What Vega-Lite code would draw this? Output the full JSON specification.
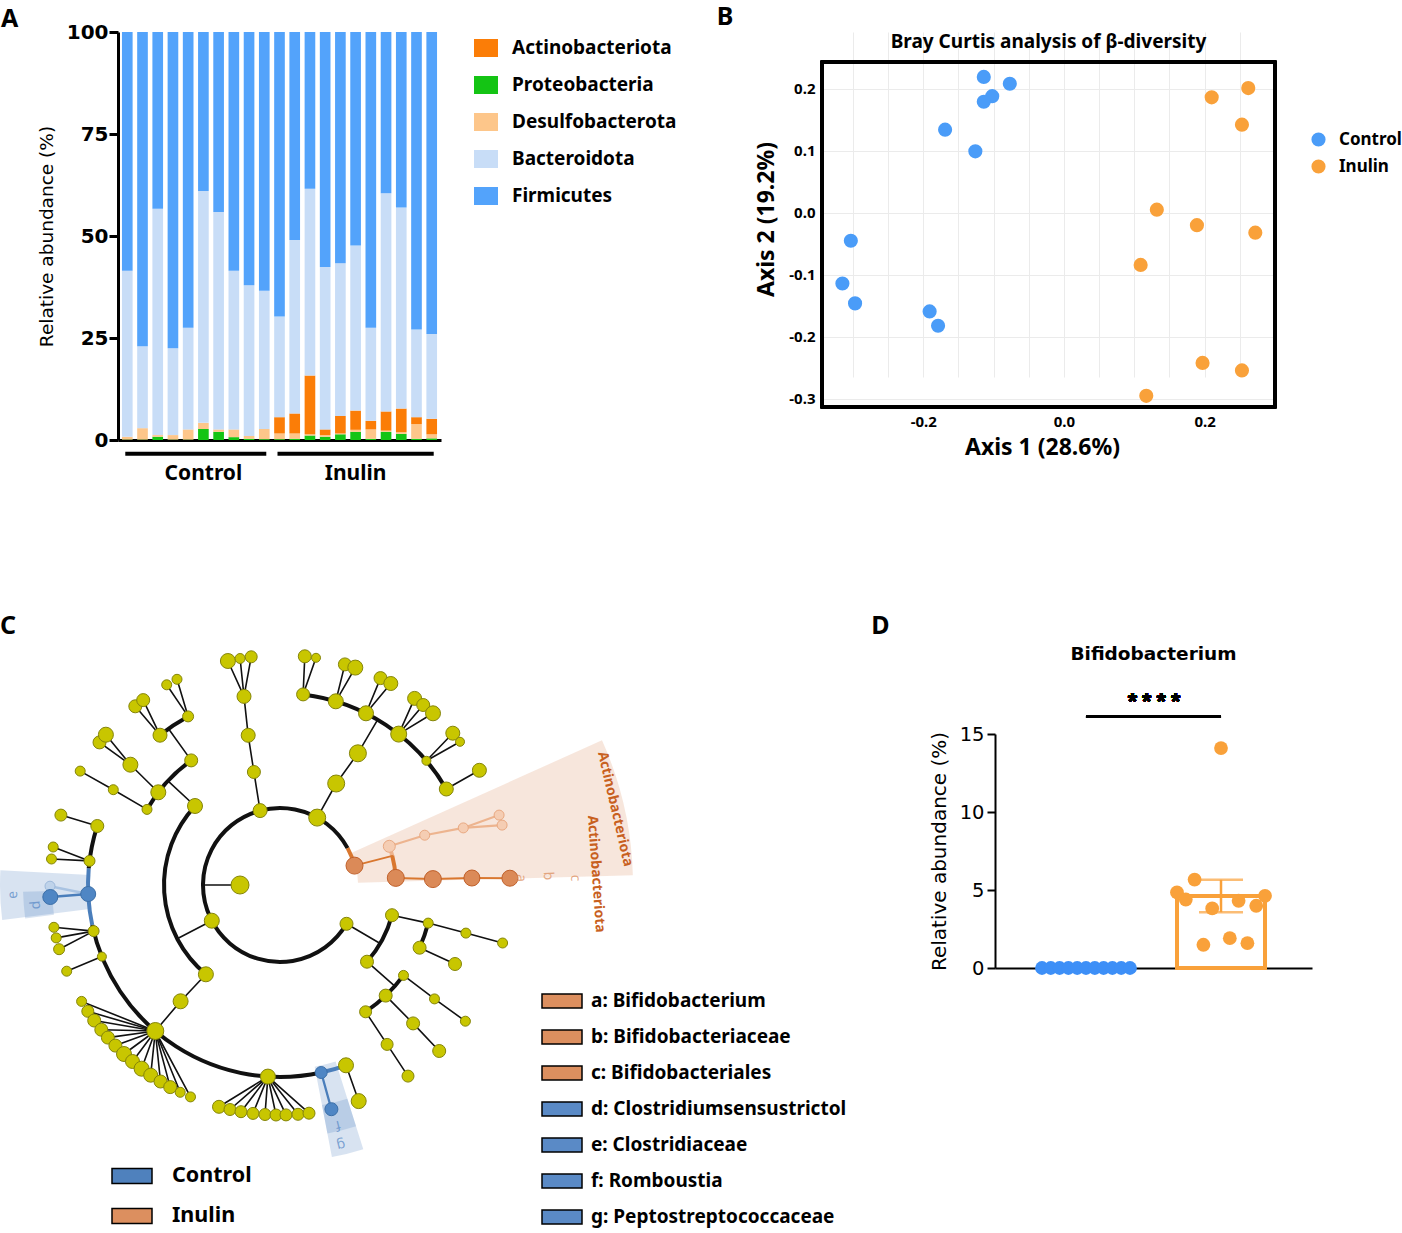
{
"$schema":"https://vega.github.io/schema/vega-lite/v6.json",
"padding":{"left":0,"top":5,"right":0,"bottom":0},
"background":"white",
"config":{"font":"Noto Sans","view":{"stroke":null},"axis":{"labelColor":"black","titleColor":"black","domainColor":"black","tickColor":"black"},"title":{"color":"black","fontWeight":"bold"},"legend":{"labelColor":"black"}},
"spacing":130,
"resolve":{"scale":{"color":"independent","fill":"independent","stroke":"independent","size":"independent","strokeWidth":"independent","angle":"independent","theta":"independent","radius":"independent","xOffset":"independent"}},
"vconcat":[
{"spacing":39,
"resolve":{"scale":{"color":"independent","fill":"independent","stroke":"independent","size":"independent"}},
"hconcat":[
{"title":{"text":"A","anchor":"start","frame":"group","dx":-117,"fontSize":25,"offset":-10},
"width":323,"height":408,
"layer":[
{"data":{"values":[
{"sample":"C1","group":"Control","Proteobacteria":0.1,"Desulfobacterota":0.7,"Actinobacteriota":0,"Bacteroidota":40.7,"Firmicutes":58.5},
{"sample":"C2","group":"Control","Proteobacteria":0.1,"Desulfobacterota":2.8,"Actinobacteriota":0,"Bacteroidota":20.1,"Firmicutes":77.0},
{"sample":"C3","group":"Control","Proteobacteria":0.8,"Desulfobacterota":0.4,"Actinobacteriota":0,"Bacteroidota":55.5,"Firmicutes":43.3},
{"sample":"C4","group":"Control","Proteobacteria":0.1,"Desulfobacterota":1.1,"Actinobacteriota":0,"Bacteroidota":21.3,"Firmicutes":77.5},
{"sample":"C5","group":"Control","Proteobacteria":0.1,"Desulfobacterota":2.5,"Actinobacteriota":0,"Bacteroidota":24.9,"Firmicutes":72.5},
{"sample":"C6","group":"Control","Proteobacteria":2.7,"Desulfobacterota":1.5,"Actinobacteriota":0,"Bacteroidota":56.8,"Firmicutes":39.0},
{"sample":"C7","group":"Control","Proteobacteria":2.0,"Desulfobacterota":0.6,"Actinobacteriota":0,"Bacteroidota":53.3,"Firmicutes":44.1},
{"sample":"C8","group":"Control","Proteobacteria":0.7,"Desulfobacterota":1.9,"Actinobacteriota":0,"Bacteroidota":38.9,"Firmicutes":58.5},
{"sample":"C9","group":"Control","Proteobacteria":0.3,"Desulfobacterota":0.7,"Actinobacteriota":0,"Bacteroidota":36.9,"Firmicutes":62.1},
{"sample":"C10","group":"Control","Proteobacteria":0.2,"Desulfobacterota":2.5,"Actinobacteriota":0,"Bacteroidota":33.9,"Firmicutes":63.4},
{"sample":"I1","group":"Inulin","Proteobacteria":0.2,"Desulfobacterota":1.4,"Actinobacteriota":4.0,"Bacteroidota":24.7,"Firmicutes":69.7},
{"sample":"I2","group":"Inulin","Proteobacteria":0.3,"Desulfobacterota":1.3,"Actinobacteriota":4.9,"Bacteroidota":42.5,"Firmicutes":51.0},
{"sample":"I3","group":"Inulin","Proteobacteria":1.1,"Desulfobacterota":0.3,"Actinobacteriota":14.4,"Bacteroidota":45.8,"Firmicutes":38.4},
{"sample":"I4","group":"Inulin","Proteobacteria":0.8,"Desulfobacterota":0.4,"Actinobacteriota":1.4,"Bacteroidota":39.8,"Firmicutes":57.6},
{"sample":"I5","group":"Inulin","Proteobacteria":1.4,"Desulfobacterota":0.2,"Actinobacteriota":4.3,"Bacteroidota":37.4,"Firmicutes":56.7},
{"sample":"I6","group":"Inulin","Proteobacteria":2.0,"Desulfobacterota":0.5,"Actinobacteriota":4.7,"Bacteroidota":40.5,"Firmicutes":52.3},
{"sample":"I7","group":"Inulin","Proteobacteria":0.3,"Desulfobacterota":2.3,"Actinobacteriota":2.1,"Bacteroidota":22.8,"Firmicutes":72.5},
{"sample":"I8","group":"Inulin","Proteobacteria":2.0,"Desulfobacterota":0.3,"Actinobacteriota":4.7,"Bacteroidota":53.5,"Firmicutes":39.5},
{"sample":"I9","group":"Inulin","Proteobacteria":1.5,"Desulfobacterota":0.4,"Actinobacteriota":5.8,"Bacteroidota":49.3,"Firmicutes":43.0},
{"sample":"I10","group":"Inulin","Proteobacteria":0.3,"Desulfobacterota":3.6,"Actinobacteriota":1.7,"Bacteroidota":21.5,"Firmicutes":72.9},
{"sample":"I11","group":"Inulin","Proteobacteria":0.4,"Desulfobacterota":1.0,"Actinobacteriota":3.8,"Bacteroidota":20.8,"Firmicutes":74.0}
]},
"transform":[
{"fold":["Proteobacteria","Desulfobacterota","Actinobacteriota","Bacteroidota","Firmicutes"],"as":["phylum","abundance"]},
{"lookup":"phylum","from":{"data":{"values":[{"phylum":"Proteobacteria","rank":1},{"phylum":"Desulfobacterota","rank":2},{"phylum":"Actinobacteriota","rank":3},{"phylum":"Bacteroidota","rank":4},{"phylum":"Firmicutes","rank":5}]},"key":"phylum","fields":["rank"]}}
],
"mark":{"type":"bar"},
"encoding":{
"x":{"field":"sample","type":"nominal","title":null,"scale":{"type":"band","domain":["C1","C2","C3","C4","C5","C6","C7","C8","C9","C10","I1","I2","I3","I4","I5","I6","I7","I8","I9","I10","I11"],"paddingInner":0.3,"paddingOuter":0.26},"axis":{"labels":false,"ticks":false,"domainWidth":3,"title":null}},
"y":{"field":"abundance","type":"quantitative","stack":"zero","title":"Relative abundance (%)","scale":{"domain":[0,100],"nice":false},"axis":{"values":[0,25,50,75,100],"grid":false,"domainWidth":3,"tickWidth":3,"tickSize":9,"labelFont":"DejaVu Sans","labelFontSize":20,"labelFontWeight":"bold","labelPadding":1,"titleFont":"DejaVu Sans","titleFontSize":18.5,"titleFontWeight":"normal","titlePadding":10}},
"color":{"field":"phylum","type":"nominal","scale":{"domain":["Actinobacteriota","Proteobacteria","Desulfobacterota","Bacteroidota","Firmicutes"],"range":["#FB7D07","#14C414","#FDC68A","#C8DDF7","#53A3FB"]},"legend":{"title":null,"orient":"none","legendX":356,"legendY":4,"symbolType":"M-1,-0.75H1V0.75H-1Z","symbolSize":576,"symbolStrokeWidth":0,"labelFontSize":19,"labelFontWeight":"bold","labelOffset":14,"rowPadding":15,"labelLimit":300}},
"order":{"field":"rank","type":"quantitative"}
}},
{"data":{"values":[{"group":"Control","first":"C1","last":"C10","mid":"C6"},{"group":"Inulin","first":"I1","last":"I11","mid":"I6"}]},
"layer":[
{"mark":{"type":"rule","strokeWidth":4,"color":"black","strokeCap":"square"},"encoding":{"x":{"field":"first","type":"nominal","title":null,"scale":{"type":"band"}},"x2":{"field":"last"},"y":{"datum":-3.4}}},
{"mark":{"type":"text","fontSize":21,"fontWeight":"bold","baseline":"middle","color":"black"},"encoding":{"x":{"field":"mid","type":"nominal","title":null,"scale":{"type":"band"}},"y":{"datum":-8.3},"text":{"field":"group"}}}
]}
]},
{"title":{"text":"B","anchor":"start","frame":"bounds","dx":-39,"fontSize":25,"offset":2},
"vconcat":[{
"title":{"text":"Bray Curtis analysis of β-diversity","fontSize":19,"fontWeight":"bold","anchor":"middle","frame":"group","offset":-20},
"width":453,"height":375,
"data":{"values":[
{"g":"Control","x":-0.114,"y":0.219},{"g":"Control","x":-0.077,"y":0.208},{"g":"Control","x":-0.102,"y":0.188},{"g":"Control","x":-0.114,"y":0.179},{"g":"Control","x":-0.169,"y":0.134},{"g":"Control","x":-0.126,"y":0.099},{"g":"Control","x":-0.303,"y":-0.045},{"g":"Control","x":-0.315,"y":-0.114},{"g":"Control","x":-0.297,"y":-0.146},{"g":"Control","x":-0.191,"y":-0.159},{"g":"Control","x":-0.179,"y":-0.182},
{"g":"Inulin","x":0.262,"y":0.201},{"g":"Inulin","x":0.210,"y":0.186},{"g":"Inulin","x":0.253,"y":0.142},{"g":"Inulin","x":0.132,"y":0.005},{"g":"Inulin","x":0.189,"y":-0.020},{"g":"Inulin","x":0.272,"y":-0.032},{"g":"Inulin","x":0.109,"y":-0.084},{"g":"Inulin","x":0.197,"y":-0.242},{"g":"Inulin","x":0.253,"y":-0.254},{"g":"Inulin","x":0.117,"y":-0.295}
]},
"layer":[
{"mark":{"type":"rect","fill":null,"filled":false,"stroke":"black","strokeWidth":2.5},
"encoding":{"x":{"datum":-0.344,"type":"quantitative"},"x2":{"datum":0.3},"y":{"datum":-0.313,"type":"quantitative"},"y2":{"datum":0.243}}},
{"mark":{"type":"circle","size":200,"opacity":1},
"encoding":{
"x":{"field":"x","type":"quantitative","title":"Axis 1 (28.6%)","scale":{"domain":[-0.344,0.3],"nice":false,"zero":false},"axis":{"values":[-0.3,-0.25,-0.2,-0.15,-0.1,-0.05,0,0.05,0.1,0.15,0.2,0.25],"labelExpr":"(abs(datum.value+0.2)<0.001 || abs(datum.value)<0.001 || abs(datum.value-0.2)<0.001) ? replace(format(datum.value,'.1f'),'\u2212','-') : ''","labelOverlap":false,"grid":true,"gridColor":"#EBEBEB","ticks":false,"domain":false,"labelFontSize":15,"labelFontWeight":"bold","labelPadding":7,"titleFontSize":23,"titleFontWeight":"bold","titlePadding":7,"titleX":220}},
"y":{"field":"y","type":"quantitative","title":"Axis 2 (19.2%)","scale":{"domain":[-0.313,0.243],"nice":false,"zero":false,"range":[375,30]},"axis":{"values":[-0.3,-0.25,-0.2,-0.15,-0.1,-0.05,0,0.05,0.1,0.15,0.2],"labelExpr":"abs(round(datum.value*100)%10)<0.5 ? replace(format(datum.value,'.1f'),'\u2212','-') : ''","labelOverlap":false,"grid":true,"gridColor":"#EBEBEB","ticks":false,"domain":false,"labelFontSize":15,"labelFontWeight":"bold","labelPadding":7,"titleFontSize":23,"titleFontWeight":"bold","titlePadding":10,"titleY":187}},
"color":{"field":"g","type":"nominal","scale":{"domain":["Control","Inulin"],"range":["#4A9CF8","#F9A13A"]},"legend":{"title":null,"orient":"none","legendX":488,"legendY":99,"symbolType":"circle","symbolSize":200,"labelFontSize":17,"labelFontWeight":"bold","labelOffset":12,"rowPadding":9}}
}}
]}]}
]},
{"spacing":23,
"resolve":{"scale":{"color":"independent","fill":"independent","stroke":"independent","size":"independent"}},
"hconcat":[
{"title":{"text":"C","anchor":"start","frame":"group","dx":-118,"fontSize":25,"offset":4},
"width":730,"height":588,
"resolve":{"scale":{"fill":"independent","stroke":"independent","color":"independent","strokeWidth":"independent","size":"independent"}},
"layer":[
{"data":{"values":[
{"clade":"Actinobacteriota","group":"Inulin","r1":78,"r2":353,"t1":65.8,"t2":88.4},
{"clade":"e","group":"Control","r1":190,"r2":280,"t1":262.8,"t2":273},
{"clade":"d","group":"Control","r1":228,"r2":257,"t1":262.5,"t2":268.5},
{"clade":"g","group":"Control","r1":185,"r2":277,"t1":162.5,"t2":169.2},
{"clade":"f","group":"Control","r1":224,"r2":253,"t1":162.5,"t2":169.2}
]},
"mark":{"type":"arc","fillOpacity":0.22},
"encoding":{
"x":{"datum":0,"type":"quantitative","scale":{"domain":[-162,568],"nice":false,"zero":false},"axis":null},
"y":{"datum":0,"type":"quantitative","scale":{"domain":[-346,242],"nice":false,"zero":false},"axis":null},
"theta":{"field":"t1","type":"quantitative","stack":null,"scale":{"type":"linear","domain":[0,360],"range":[0,6.283185307179586],"zero":false}},
"theta2":{"field":"t2"},
"radius":{"field":"r2","type":"quantitative","scale":{"type":"linear","domain":[0,100],"range":[0,100],"zero":true}},
"radius2":{"field":"r1"},
"fill":{"field":"group","type":"nominal","scale":{"domain":["Control","Inulin"],"range":["#4F81BD","#DC8F5F"]},"legend":{"title":null,"orient":"none","legendX":-7,"legendY":512,"symbolType":"M-1,-0.375H1V0.375H-1Z","symbolSize":1600,"symbolOpacity":1,"symbolStrokeColor":"black","symbolStrokeWidth":1.5,"labelFontSize":21.5,"labelFontWeight":"bold","labelOffset":19,"rowPadding":8}}
}},
{"data":{"values":[
{"r":77,"t1":120.3,"t2":421.4,"k":"ns"},{"r":77,"t1":421.4,"t2":435.4,"k":"Inulin"},
{"r":192,"t1":6.9,"t2":60.0,"k":"ns"},
{"r":116,"t1":70.5,"t2":75.4,"k":"Inulin_light"},{"r":116,"t1":75.4,"t2":86.5,"k":"Inulin"},
{"r":116,"t1":105.1,"t2":131.4,"k":"ns"},{"r":153,"t1":104.4,"t2":114.2,"k":"ns"},{"r":153,"t1":126.2,"t2":146.0,"k":"ns"},
{"r":116,"t1":219.7,"t2":312.9,"k":"ns"},{"r":153,"t1":299.6,"t2":324.5,"k":"ns"},{"r":192,"t1":321.3,"t2":331.4,"k":"ns"},
{"r":192,"t1":167.6,"t2":258,"k":"ns"},{"r":192,"t1":258,"t2":275,"k":"Control"},{"r":192,"t1":275,"t2":287.9,"k":"ns"},{"r":192,"t1":159.9,"t2":167.6,"k":"Control"}
]},
"mark":{"type":"arc","filled":false,"strokeWidth":4},
"encoding":{
"x":{"datum":0,"type":"quantitative","scale":{"domain":[-162,568],"nice":false,"zero":false},"axis":null},
"y":{"datum":0,"type":"quantitative","scale":{"domain":[-346,242],"nice":false,"zero":false},"axis":null},
"theta":{"field":"t1","type":"quantitative","stack":null,"scale":{"type":"linear","domain":[0,360],"range":[0,6.283185307179586],"zero":false}},
"theta2":{"field":"t2"},
"radius":{"field":"r","type":"quantitative","scale":{"type":"linear","domain":[0,100],"range":[0,100],"zero":true}},
"radius2":{"field":"r"},
"stroke":{"field":"k","type":"nominal","scale":{"domain":["ns","Inulin","Inulin_light","Control"],"range":["#111111","#D9772F","#EDB48F","#4A7EBB"]},"legend":null}
}},
{"data":{"values":[
{"x1":-40,"y1":0,"x2":-77,"y2":0,"k":"ns"},
{"x1":-19.9,"y1":74.4,"x2":-26.1,"y2":113.0,"k":"ns"},
{"x1":-26.1,"y1":113.0,"x2":-31.8,"y2":149.7,"k":"ns"},
{"x1":-31.8,"y1":149.7,"x2":-36.0,"y2":188.6,"k":"ns"},
{"x1":-36.0,"y1":188.6,"x2":-52.1,"y2":224.0,"k":"ns"},
{"x1":-36.0,"y1":188.6,"x2":-39.9,"y2":226.5,"k":"ns"},
{"x1":-36.0,"y1":188.6,"x2":-28.8,"y2":228.2,"k":"ns"},
{"x1":37.2,"y1":67.4,"x2":56.2,"y2":101.5,"k":"ns"},
{"x1":56.2,"y1":101.5,"x2":77.9,"y2":131.7,"k":"ns"},
{"x1":77.9,"y1":131.7,"x2":97.7,"y2":165.3,"k":"ns"},
{"x1":23.1,"y1":190.6,"x2":24.8,"y2":228.7,"k":"ns"},
{"x1":23.1,"y1":190.6,"x2":36.0,"y2":227.2,"k":"ns"},
{"x1":55.8,"y1":183.7,"x2":64.9,"y2":220.6,"k":"ns"},
{"x1":55.8,"y1":183.7,"x2":75.3,"y2":217.4,"k":"ns"},
{"x1":86.0,"y1":171.7,"x2":100.5,"y2":206.9,"k":"ns"},
{"x1":86.0,"y1":171.7,"x2":110.8,"y2":201.5,"k":"ns"},
{"x1":118.7,"y1":150.9,"x2":134.6,"y2":186.6,"k":"ns"},
{"x1":118.7,"y1":150.9,"x2":143.2,"y2":180.0,"k":"ns"},
{"x1":118.7,"y1":150.9,"x2":153.0,"y2":171.7,"k":"ns"},
{"x1":146.4,"y1":124.2,"x2":172.8,"y2":151.8,"k":"ns"},
{"x1":146.4,"y1":124.2,"x2":180.0,"y2":143.2,"k":"ns"},
{"x1":166.3,"y1":96.0,"x2":199.4,"y2":114.7,"k":"ns"},
{"x1":74.5,"y1":19.4,"x2":112.3,"y2":29.2,"k":"Inulin"},
{"x1":109.3,"y1":38.7,"x2":144.7,"y2":49.8,"k":"Inulin_light"},
{"x1":144.7,"y1":49.8,"x2":183.3,"y2":57.1,"k":"Inulin_light"},
{"x1":183.3,"y1":57.1,"x2":219.1,"y2":69.9,"k":"Inulin_light"},
{"x1":183.3,"y1":57.1,"x2":222.1,"y2":59.9,"k":"Inulin_light"},
{"x1":115.8,"y1":7.1,"x2":152.9,"y2":5.9,"k":"Inulin_thick"},
{"x1":152.9,"y1":5.9,"x2":191.9,"y2":7.0,"k":"Inulin_thick"},
{"x1":191.9,"y1":7.0,"x2":229.9,"y2":6.8,"k":"Inulin_thick"},
{"x1":66.5,"y1":-38.8,"x2":100.2,"y2":-58.5,"k":"ns"},
{"x1":112.0,"y1":-30.2,"x2":148.2,"y2":-38.1,"k":"ns"},
{"x1":148.2,"y1":-38.1,"x2":185.9,"y2":-48.1,"k":"ns"},
{"x1":185.9,"y1":-48.1,"x2":222.6,"y2":-58.0,"k":"ns"},
{"x1":139.6,"y1":-62.7,"x2":175.0,"y2":-79.0,"k":"ns"},
{"x1":87.0,"y1":-76.7,"x2":114.8,"y2":-101.2,"k":"ns"},
{"x1":123.5,"y1":-90.4,"x2":154.5,"y2":-113.9,"k":"ns"},
{"x1":154.5,"y1":-113.9,"x2":185.4,"y2":-136.2,"k":"ns"},
{"x1":105.7,"y1":-110.6,"x2":133.1,"y2":-138.4,"k":"ns"},
{"x1":133.1,"y1":-138.4,"x2":159.2,"y2":-166.0,"k":"ns"},
{"x1":85.6,"y1":-126.8,"x2":107.1,"y2":-159.4,"k":"ns"},
{"x1":107.1,"y1":-159.4,"x2":128.0,"y2":-191.1,"k":"ns"},
{"x1":-68.2,"y1":-35.7,"x2":-102.8,"y2":-53.7,"k":"ns"},
{"x1":-85.0,"y1":79.0,"x2":-112.1,"y2":104.1,"k":"ns"},
{"x1":-88.8,"y1":124.6,"x2":-111.5,"y2":156.3,"k":"ns"},
{"x1":-120.0,"y1":149.8,"x2":-144.7,"y2":178.7,"k":"ns"},
{"x1":-120.0,"y1":149.8,"x2":-136.8,"y2":184.9,"k":"ns"},
{"x1":-91.9,"y1":168.6,"x2":-113.3,"y2":200.2,"k":"ns"},
{"x1":-91.9,"y1":168.6,"x2":-103.0,"y2":205.7,"k":"ns"},
{"x1":-121.7,"y1":92.7,"x2":-149.6,"y2":120.3,"k":"ns"},
{"x1":-149.6,"y1":120.3,"x2":-180.5,"y2":142.6,"k":"ns"},
{"x1":-149.6,"y1":120.3,"x2":-174.1,"y2":150.3,"k":"ns"},
{"x1":-133.0,"y1":75.6,"x2":-166.7,"y2":95.3,"k":"ns"},
{"x1":-166.7,"y1":95.3,"x2":-199.8,"y2":113.9,"k":"ns"},
{"x1":-74.1,"y1":-89.3,"x2":-99.4,"y2":-116.3,"k":"ns"},
{"x1":-99.4,"y1":-116.3,"x2":-124.7,"y2":-146.0,"k":"ns"},
{"x1":-182.7,"y1":59.0,"x2":-219.1,"y2":69.9,"k":"ns"},
{"x1":-190.5,"y1":24.1,"x2":-226.8,"y2":38.0,"k":"ns"},
{"x1":-190.5,"y1":24.1,"x2":-228.5,"y2":26.0,"k":"ns"},
{"x1":-191.8,"y1":-9.0,"x2":-230.0,"y2":-1.2,"k":"Control_light"},
{"x1":-191.8,"y1":-9.0,"x2":-229.7,"y2":-12.0,"k":"Control_thick"},
{"x1":-186.4,"y1":-46.1,"x2":-226.1,"y2":-42.3,"k":"ns"},
{"x1":-186.4,"y1":-46.1,"x2":-223.8,"y2":-52.9,"k":"ns"},
{"x1":-186.4,"y1":-46.1,"x2":-220.9,"y2":-64.2,"k":"ns"},
{"x1":-178.1,"y1":-71.6,"x2":-213.3,"y2":-86.2,"k":"ns"},
{"x1":-124.7,"y1":-146.0,"x2":-198.4,"y2":-116.4,"k":"ns"},
{"x1":-124.7,"y1":-146.0,"x2":-192.2,"y2":-126.3,"k":"ns"},
{"x1":-124.7,"y1":-146.0,"x2":-185.8,"y2":-135.5,"k":"ns"},
{"x1":-124.7,"y1":-146.0,"x2":-178.7,"y2":-144.7,"k":"ns"},
{"x1":-124.7,"y1":-146.0,"x2":-172.1,"y2":-152.6,"k":"ns"},
{"x1":-124.7,"y1":-146.0,"x2":-164.6,"y2":-160.6,"k":"ns"},
{"x1":-124.7,"y1":-146.0,"x2":-156.0,"y2":-169.0,"k":"ns"},
{"x1":-124.7,"y1":-146.0,"x2":-147.5,"y2":-176.5,"k":"ns"},
{"x1":-124.7,"y1":-146.0,"x2":-138.4,"y2":-183.7,"k":"ns"},
{"x1":-124.7,"y1":-146.0,"x2":-129.3,"y2":-190.2,"k":"ns"},
{"x1":-124.7,"y1":-146.0,"x2":-119.5,"y2":-196.5,"k":"ns"},
{"x1":-124.7,"y1":-146.0,"x2":-109.8,"y2":-202.1,"k":"ns"},
{"x1":-124.7,"y1":-146.0,"x2":-99.8,"y2":-207.3,"k":"ns"},
{"x1":-124.7,"y1":-146.0,"x2":-89.5,"y2":-211.9,"k":"ns"},
{"x1":-12.1,"y1":-191.6,"x2":-61,"y2":-221.8,"k":"ns"},
{"x1":-12.1,"y1":-191.6,"x2":-50,"y2":-224.5,"k":"ns"},
{"x1":-12.1,"y1":-191.6,"x2":-39,"y2":-226.7,"k":"ns"},
{"x1":-12.1,"y1":-191.6,"x2":-27,"y2":-228.4,"k":"ns"},
{"x1":-12.1,"y1":-191.6,"x2":-15,"y2":-229.5,"k":"ns"},
{"x1":-12.1,"y1":-191.6,"x2":-4,"y2":-230.0,"k":"ns"},
{"x1":-12.1,"y1":-191.6,"x2":6,"y2":-229.9,"k":"ns"},
{"x1":-12.1,"y1":-191.6,"x2":18,"y2":-229.3,"k":"ns"},
{"x1":-12.1,"y1":-191.6,"x2":29,"y2":-228.2,"k":"ns"},
{"x1":41.2,"y1":-187.5,"x2":51.4,"y2":-224.2,"k":"Control_thick"},
{"x1":66.0,"y1":-180.3,"x2":78.7,"y2":-216.1,"k":"ns"}
]},
"mark":{"type":"rule","strokeCap":"round"},
"encoding":{
"x":{"field":"x1","type":"quantitative","scale":{"domain":[-162,568],"nice":false,"zero":false},"axis":null},
"y":{"field":"y1","type":"quantitative","scale":{"domain":[-346,242],"nice":false,"zero":false},"axis":null},
"x2":{"field":"x2"},"y2":{"field":"y2"},
"stroke":{"field":"k","type":"nominal","scale":{"domain":["ns","Inulin","Inulin_thick","Inulin_light","Control_thick","Control_light"],"range":["#111111","#D9772F","#D9772F","#EDB48F","#4A7EBB","#A9C3E2"]},"legend":null},
"strokeWidth":{"field":"k","type":"nominal","scale":{"domain":["ns","Inulin","Inulin_thick","Inulin_light","Control_thick","Control_light"],"range":[1.6,2.5,5,2,5,2]},"legend":null}
}},
{"data":{"values":[
{"X":-40,"Y":0,"ab":18,"c":"ns"},
{"X":-19.9,"Y":74.4,"ab":14,"c":"ns"},{"X":-26.1,"Y":113.0,"ab":13,"c":"ns"},{"X":-31.8,"Y":149.7,"ab":14,"c":"ns"},{"X":-36.0,"Y":188.6,"ab":14,"c":"ns"},
{"X":-52.1,"Y":224.0,"ab":15,"c":"ns"},{"X":-39.9,"Y":226.5,"ab":10,"c":"ns"},{"X":-28.8,"Y":228.2,"ab":12,"c":"ns"},
{"X":37.2,"Y":67.4,"ab":17,"c":"ns"},{"X":56.2,"Y":101.5,"ab":17,"c":"ns"},{"X":77.9,"Y":131.7,"ab":17,"c":"ns"},
{"X":23.1,"Y":190.6,"ab":13,"c":"ns"},{"X":24.8,"Y":228.7,"ab":13,"c":"ns"},{"X":36.0,"Y":227.2,"ab":9,"c":"ns"},
{"X":55.8,"Y":183.7,"ab":15,"c":"ns"},{"X":64.9,"Y":220.6,"ab":13,"c":"ns"},{"X":75.3,"Y":217.4,"ab":15,"c":"ns"},
{"X":86.0,"Y":171.7,"ab":15,"c":"ns"},{"X":100.5,"Y":206.9,"ab":13,"c":"ns"},{"X":110.8,"Y":201.5,"ab":14,"c":"ns"},
{"X":118.7,"Y":150.9,"ab":16,"c":"ns"},{"X":134.6,"Y":186.6,"ab":14,"c":"ns"},{"X":143.2,"Y":180.0,"ab":13,"c":"ns"},{"X":153.0,"Y":171.7,"ab":15,"c":"ns"},
{"X":146.4,"Y":124.2,"ab":9,"c":"ns"},{"X":172.8,"Y":151.8,"ab":14,"c":"ns"},{"X":180.0,"Y":143.2,"ab":9,"c":"ns"},
{"X":166.3,"Y":96.0,"ab":14,"c":"ns"},{"X":199.4,"Y":114.7,"ab":14,"c":"ns"},
{"X":74.5,"Y":19.4,"ab":17,"c":"Inulin"},
{"X":109.3,"Y":38.7,"ab":12,"c":"Inulin_light"},{"X":144.7,"Y":49.8,"ab":10,"c":"Inulin_light"},{"X":183.3,"Y":57.1,"ab":10,"c":"Inulin_light"},{"X":219.1,"Y":69.9,"ab":10,"c":"Inulin_light"},{"X":222.1,"Y":59.9,"ab":10,"c":"Inulin_light"},
{"X":115.8,"Y":7.1,"ab":17,"c":"Inulin"},{"X":152.9,"Y":5.9,"ab":17,"c":"Inulin"},{"X":191.9,"Y":7.0,"ab":16,"c":"Inulin"},{"X":229.9,"Y":6.8,"ab":16,"c":"Inulin"},
{"X":66.5,"Y":-38.8,"ab":13,"c":"ns"},{"X":112.0,"Y":-30.2,"ab":13,"c":"ns"},{"X":87.0,"Y":-76.7,"ab":13,"c":"ns"},
{"X":148.2,"Y":-38.1,"ab":10,"c":"ns"},{"X":139.6,"Y":-62.7,"ab":13,"c":"ns"},{"X":185.9,"Y":-48.1,"ab":10,"c":"ns"},{"X":222.6,"Y":-58.0,"ab":10,"c":"ns"},{"X":175.0,"Y":-79.0,"ab":13,"c":"ns"},
{"X":123.5,"Y":-90.4,"ab":10,"c":"ns"},{"X":105.7,"Y":-110.6,"ab":13,"c":"ns"},{"X":85.6,"Y":-126.8,"ab":12,"c":"ns"},
{"X":154.5,"Y":-113.9,"ab":10,"c":"ns"},{"X":185.4,"Y":-136.2,"ab":10,"c":"ns"},{"X":133.1,"Y":-138.4,"ab":13,"c":"ns"},{"X":159.2,"Y":-166.0,"ab":13,"c":"ns"},{"X":107.1,"Y":-159.4,"ab":12,"c":"ns"},{"X":128.0,"Y":-191.1,"ab":12,"c":"ns"},
{"X":-68.2,"Y":-35.7,"ab":15,"c":"ns"},{"X":-85.0,"Y":79.0,"ab":15,"c":"ns"},{"X":-74.1,"Y":-89.3,"ab":15,"c":"ns"},
{"X":-88.8,"Y":124.6,"ab":13,"c":"ns"},{"X":-121.7,"Y":92.7,"ab":15,"c":"ns"},{"X":-133.0,"Y":75.6,"ab":10,"c":"ns"},
{"X":-120.0,"Y":149.8,"ab":14,"c":"ns"},{"X":-144.7,"Y":178.7,"ab":13,"c":"ns"},{"X":-136.8,"Y":184.9,"ab":13,"c":"ns"},
{"X":-91.9,"Y":168.6,"ab":11,"c":"ns"},{"X":-113.3,"Y":200.2,"ab":10,"c":"ns"},{"X":-103.0,"Y":205.7,"ab":10,"c":"ns"},
{"X":-149.6,"Y":120.3,"ab":15,"c":"ns"},{"X":-180.5,"Y":142.6,"ab":13,"c":"ns"},{"X":-174.1,"Y":150.3,"ab":15,"c":"ns"},
{"X":-166.7,"Y":95.3,"ab":10,"c":"ns"},{"X":-199.8,"Y":113.9,"ab":10,"c":"ns"},
{"X":-99.4,"Y":-116.3,"ab":15,"c":"ns"},
{"X":-182.7,"Y":59.0,"ab":13,"c":"ns"},{"X":-219.1,"Y":69.9,"ab":12,"c":"ns"},
{"X":-190.5,"Y":24.1,"ab":11,"c":"ns"},{"X":-226.8,"Y":38.0,"ab":10,"c":"ns"},{"X":-228.5,"Y":26.0,"ab":10,"c":"ns"},
{"X":-230.0,"Y":-1.2,"ab":10,"c":"Control_light"},
{"X":-191.8,"Y":-9.0,"ab":15,"c":"Control"},{"X":-229.7,"Y":-12.0,"ab":15,"c":"Control"},
{"X":-186.4,"Y":-46.1,"ab":11,"c":"ns"},{"X":-226.1,"Y":-42.3,"ab":10,"c":"ns"},{"X":-223.8,"Y":-52.9,"ab":10,"c":"ns"},{"X":-220.9,"Y":-64.2,"ab":11,"c":"ns"},
{"X":-178.1,"Y":-71.6,"ab":9,"c":"ns"},{"X":-213.3,"Y":-86.2,"ab":10,"c":"ns"},
{"X":-124.7,"Y":-146.0,"ab":17,"c":"ns"},
{"X":-198.4,"Y":-116.4,"ab":10,"c":"ns"},{"X":-192.2,"Y":-126.3,"ab":12,"c":"ns"},{"X":-185.8,"Y":-135.5,"ab":13,"c":"ns"},{"X":-178.7,"Y":-144.7,"ab":13,"c":"ns"},{"X":-172.1,"Y":-152.6,"ab":13,"c":"ns"},{"X":-164.6,"Y":-160.6,"ab":13,"c":"ns"},{"X":-156.0,"Y":-169.0,"ab":15,"c":"ns"},{"X":-147.5,"Y":-176.5,"ab":14,"c":"ns"},{"X":-138.4,"Y":-183.7,"ab":15,"c":"ns"},{"X":-129.3,"Y":-190.2,"ab":14,"c":"ns"},{"X":-119.5,"Y":-196.5,"ab":13,"c":"ns"},{"X":-109.8,"Y":-202.1,"ab":13,"c":"ns"},{"X":-99.8,"Y":-207.3,"ab":10,"c":"ns"},{"X":-89.5,"Y":-211.9,"ab":10,"c":"ns"},
{"X":-12.1,"Y":-191.6,"ab":15,"c":"ns"},
{"X":-61,"Y":-221.8,"ab":13,"c":"ns"},{"X":-50,"Y":-224.5,"ab":12,"c":"ns"},{"X":-39,"Y":-226.7,"ab":12,"c":"ns"},{"X":-27,"Y":-228.4,"ab":12,"c":"ns"},{"X":-15,"Y":-229.5,"ab":12,"c":"ns"},{"X":-4,"Y":-230.0,"ab":12,"c":"ns"},{"X":6,"Y":-229.9,"ab":12,"c":"ns"},{"X":18,"Y":-229.3,"ab":12,"c":"ns"},{"X":29,"Y":-228.2,"ab":12,"c":"ns"},
{"X":41.2,"Y":-187.5,"ab":12,"c":"Control"},{"X":51.4,"Y":-224.2,"ab":13,"c":"Control"},
{"X":66.0,"Y":-180.3,"ab":15,"c":"ns"},{"X":78.7,"Y":-216.1,"ab":15,"c":"ns"}
]},
"mark":{"type":"circle","opacity":1,"strokeWidth":1},
"encoding":{
"x":{"field":"X","type":"quantitative","scale":{"domain":[-162,568],"nice":false,"zero":false},"axis":null},
"y":{"field":"Y","type":"quantitative","scale":{"domain":[-346,242],"nice":false,"zero":false},"axis":null},
"size":{"field":"ab","type":"quantitative","scale":{"type":"pow","exponent":2,"domain":[0,20],"range":[0,400]},"legend":null},
"fill":{"field":"c","type":"nominal","scale":{"domain":["ns","Inulin","Inulin_light","Control","Control_light"],"range":["#C8C600","#DB8A58","#F5CDB3","#4F86C4","#BFD3EA"]},"legend":null},
"stroke":{"field":"c","type":"nominal","scale":{"domain":["ns","Inulin","Inulin_light","Control","Control_light"],"range":["#85850A","#C0602A","#E9A982","#3B6FA8","#9DB9DB"]},"legend":null}
}},
{"data":{"values":[
{"letter":"a","biomarker":"a: Bifidobacterium","X":241,"Y":7,"ang":88},
{"letter":"b","biomarker":"b: Bifidobacteriaceae","X":268,"Y":9,"ang":88},
{"letter":"c","biomarker":"c: Bifidobacteriales","X":295,"Y":7,"ang":88},
{"letter":"d","biomarker":"d: Clostridiumsensustrictol","X":-244,"Y":-20,"ang":265},
{"letter":"e","biomarker":"e: Clostridiaceae","X":-267,"Y":-10,"ang":268},
{"letter":"f","biomarker":"f: Romboustia","X":58,"Y":-240,"ang":166},
{"letter":"g","biomarker":"g: Peptostreptococcaceae","X":61,"Y":-260,"ang":166}
]},
"mark":{"type":"text","fillOpacity":0.75,"fontSize":14,"baseline":"middle","align":"center"},
"encoding":{
"x":{"field":"X","type":"quantitative","scale":{"domain":[-162,568],"nice":false,"zero":false},"axis":null},
"y":{"field":"Y","type":"quantitative","scale":{"domain":[-346,242],"nice":false,"zero":false},"axis":null},
"text":{"field":"letter"},
"angle":{"field":"ang","type":"quantitative","scale":{"domain":[0,360],"range":[0,360]}},
"color":{"field":"biomarker","type":"nominal","scale":{"domain":["a: Bifidobacterium","b: Bifidobacteriaceae","c: Bifidobacteriales","d: Clostridiumsensustrictol","e: Clostridiaceae","f: Romboustia","g: Peptostreptococcaceae"],"range":["#DC8F5F","#DC8F5F","#DC8F5F","#5A8AC6","#5A8AC6","#5A8AC6","#5A8AC6"]},"legend":{"title":null,"orient":"none","legendX":423,"legendY":337,"symbolType":"M-1,-0.35H1V0.35H-1Z","symbolSize":1600,"symbolOpacity":1,"symbolStrokeColor":"black","symbolStrokeWidth":1.5,"labelFontSize":19,"labelFontWeight":"bold","labelOffset":8,"rowPadding":5,"labelLimit":400}}
}},
{"data":{"values":[
{"name":"Actinobacteriota","X":335,"Y":76,"ang":77},
{"name":"Actinobacteriota","X":316,"Y":11,"ang":86}
]},
"mark":{"type":"text","fontSize":14,"fontWeight":"bold","color":"#C8601E","baseline":"middle","align":"center"},
"encoding":{
"x":{"field":"X","type":"quantitative","scale":{"domain":[-162,568],"nice":false,"zero":false},"axis":null},
"y":{"field":"Y","type":"quantitative","scale":{"domain":[-346,242],"nice":false,"zero":false},"axis":null},
"text":{"field":"name"},
"angle":{"field":"ang","type":"quantitative","scale":{"domain":[0,360],"range":[0,360]}}
}}
]},
{"title":{"text":"D","anchor":"start","frame":"bounds","dx":-58,"fontSize":25,"offset":4},
"vconcat":[{
"title":{"text":"Bifidobacterium","font":"DejaVu Sans","fontSize":18.5,"fontWeight":"bold","anchor":"middle","frame":"group","offset":-20},
"width":317,"height":325,
"data":{"values":[
{"g":"Control","rep":1,"v":0},{"g":"Control","rep":2,"v":0},{"g":"Control","rep":3,"v":0},{"g":"Control","rep":4,"v":0},{"g":"Control","rep":5,"v":0},{"g":"Control","rep":6,"v":0},{"g":"Control","rep":7,"v":0},{"g":"Control","rep":8,"v":0},{"g":"Control","rep":9,"v":0},{"g":"Control","rep":10,"v":0},{"g":"Control","rep":11,"v":0},
{"g":"Inulin","rep":1,"v":4.84},{"g":"Inulin","rep":2,"v":4.39},{"g":"Inulin","rep":3,"v":5.67},{"g":"Inulin","rep":4,"v":1.49},{"g":"Inulin","rep":5,"v":3.82},{"g":"Inulin","rep":6,"v":14.1},{"g":"Inulin","rep":7,"v":1.91},{"g":"Inulin","rep":8,"v":4.31},{"g":"Inulin","rep":9,"v":1.59},{"g":"Inulin","rep":10,"v":3.99},{"g":"Inulin","rep":11,"v":4.63}
]},
"encoding":{"x":{"field":"g","type":"nominal","title":null,"scale":{"domain":["Control","Inulin"],"paddingInner":0.348,"paddingOuter":0.348},"axis":{"labels":false,"ticks":false,"title":null,"domainWidth":2}}},
"layer":[
{"transform":[{"filter":"datum.g === 'Inulin'"}],"mark":{"type":"bar","fill":"white","stroke":"#F9A13A","strokeWidth":4,"width":88},"encoding":{"y":{"aggregate":"mean","field":"v","type":"quantitative","title":"Relative abundance (%)","scale":{"domain":[0,15],"nice":false,"range":[325,91]},"axis":{"values":[0,5,10,15],"grid":false,"domainWidth":2,"tickWidth":2,"tickSize":8,"labelFont":"DejaVu Sans","labelFontSize":19.5,"labelPadding":3,"titleFont":"DejaVu Sans","titleFontSize":20,"titleFontWeight":"normal","titlePadding":10}}}},
{"transform":[{"filter":"datum.g === 'Inulin'"}],"mark":{"type":"errorbar","extent":"stderr","ticks":true,"color":"#F9A13A","thickness":2.5,"size":44},"encoding":{"y":{"field":"v","type":"quantitative","title":"Relative abundance (%)"}}},
{"mark":{"type":"circle","size":190,"opacity":1},"encoding":{"xOffset":{"field":"rep","type":"ordinal","scale":{"paddingInner":0,"paddingOuter":0}},"y":{"field":"v","type":"quantitative","title":"Relative abundance (%)"},"color":{"field":"g","type":"nominal","scale":{"domain":["Control","Inulin"],"range":["#3D8FF7","#F9A13A"]},"legend":null}}},
{"mark":{"type":"rule","strokeWidth":2.5,"color":"black"},"encoding":{"x":{"datum":"Control"},"x2":{"datum":"Inulin"},"y":{"datum":16.1}}},
{"mark":{"type":"text","text":"****","font":"Liberation Mono","fontSize":24,"fontWeight":"bold","dx":68,"color":"black"},"encoding":{"x":{"datum":"Control"},"y":{"datum":16.9}}}
]
}]}
]}
]
}
